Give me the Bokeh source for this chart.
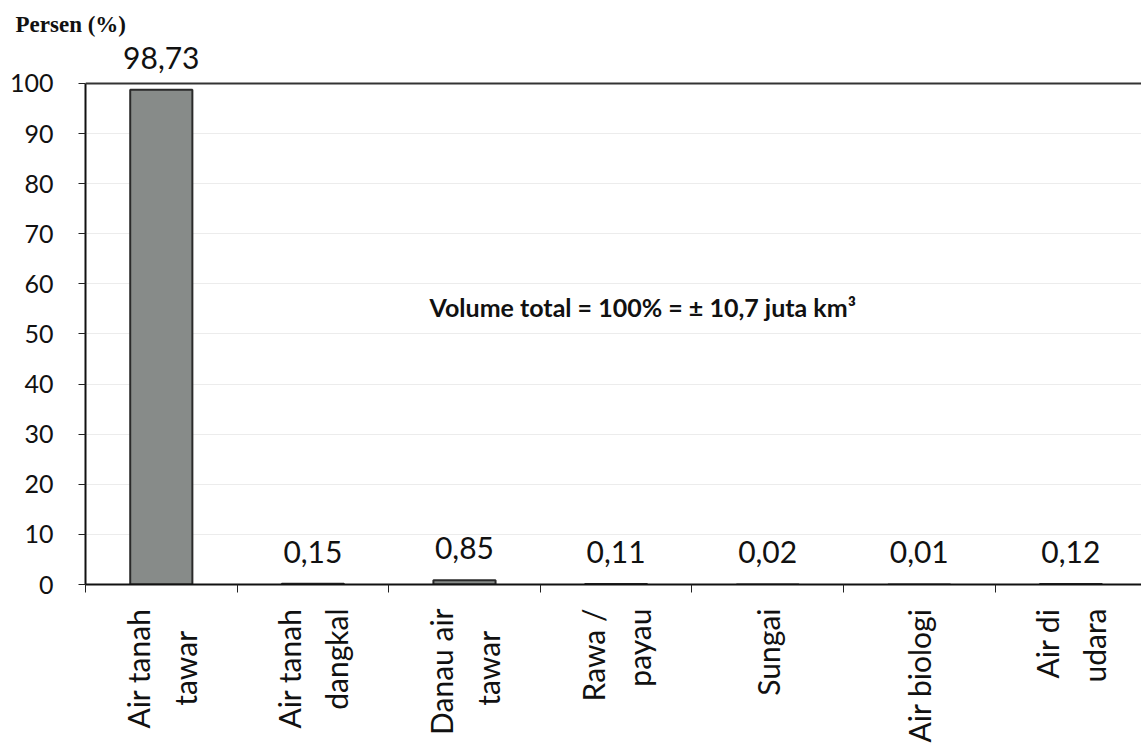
from bokeh.plotting import figure
from bokeh.models import (ColumnDataSource, Range1d, FixedTicker, LabelSet, Label, Span)
from bokeh.core.properties import value
from bokeh.embed import file_html
from bokeh.resources import INLINE

NB = "\u00a0"
categories = ["Air tanah\ntawar" + NB * 3, "Air tanah\ndangkal", "Danau air\ntawar" + NB * 3,
              "Rawa /\npayau", "Sungai", "Air biologi", "Air di\nudara"]
values = [98.73, 0.15, 0.85, 0.11, 0.02, 0.01, 0.12]
y_ticks = [0, 10, 20, 30, 40, 50, 60, 70, 80, 90, 100]
y_label = "Persen (%)"
note = "Volume total = 100% = \u00b1 10,7 juta km\u00b3"

centers = [i + 0.5 for i in range(len(categories))]
bounds = list(range(len(categories) + 1))
labels = [f"{v:.2f}".replace(".", ",") for v in values]

src = ColumnDataSource(dict(x=centers, top=values, label=labels))

FONT = "Lato"

p = figure(width=1141, height=747, output_backend="svg", toolbar_location=None,
           x_range=Range1d(0, 6.966), y_range=Range1d(0, 108.98),
           min_border_left=85, min_border_right=0, min_border_top=38,
           min_border_bottom=163, title=y_label)
p.outline_line_color = None
p.background_fill_color = "white"

p.title.text_font = "Liberation Serif"
p.title.text_font_style = "bold"
p.title.text_font_size = "23px"
p.title.text_color = "#111111"
p.title.align = "left"
p.title.offset = -70
p.title.standoff = 4

p.vbar(x="x", top="top", width=0.41, bottom=0, source=src,
       fill_color="#878b89", line_color="#2a2a2a", line_width=2)

# axes
p.yaxis.ticker = FixedTicker(ticks=y_ticks)
p.yaxis.bounds = (0, 100)
p.yaxis.major_label_text_font = FONT
p.yaxis.major_label_text_font_size = "25px"
p.yaxis.major_label_text_color = "#111111"
p.yaxis.major_tick_out = 7
p.yaxis.major_tick_in = 0
p.yaxis.minor_tick_line_color = None
p.yaxis.axis_line_color = "#111111"
p.yaxis.axis_line_width = 2
p.yaxis.major_tick_line_color = "#222222"
p.yaxis.major_label_standoff = 25

p.xaxis.ticker = FixedTicker(ticks=centers, minor_ticks=bounds)
p.xaxis.major_label_overrides = {c: lab for c, lab in zip(centers, categories)}
p.xaxis.major_label_orientation = 3.14159265 / 2
p.xaxis.major_label_text_font = FONT
p.xaxis.major_label_text_font_size = "30px"
p.xaxis.major_label_text_line_height = 1.3
p.xaxis.major_label_text_color = "#111111"
p.xaxis.major_tick_line_color = None
p.xaxis.minor_tick_out = 8
p.xaxis.minor_tick_in = 0
p.xaxis.minor_tick_line_color = "#222222"
p.xaxis.axis_line_color = "#111111"
p.xaxis.axis_line_width = 2
p.xaxis.major_label_standoff = 16

p.xgrid.grid_line_color = None
p.ygrid.grid_line_color = "#ececec"
p.ygrid.ticker = FixedTicker(ticks=y_ticks[1:])

p.add_layout(Span(location=100, dimension="width", line_color="#333333", line_width=2))

p.add_layout(LabelSet(x="x", y="top", text="label", source=src, y_offset=32,
                      text_align="center", text_baseline="middle",
                      text_font=value(FONT), text_font_size=value("30px"),
                      text_color="#111111"))

p.add_layout(Label(x=2.27, y=55.3, text=note, text_font=FONT, text_font_style="bold",
                   text_font_size="25px", text_baseline="middle", text_color="#111111"))

open("out.html", "w").write(file_html(p, INLINE))
